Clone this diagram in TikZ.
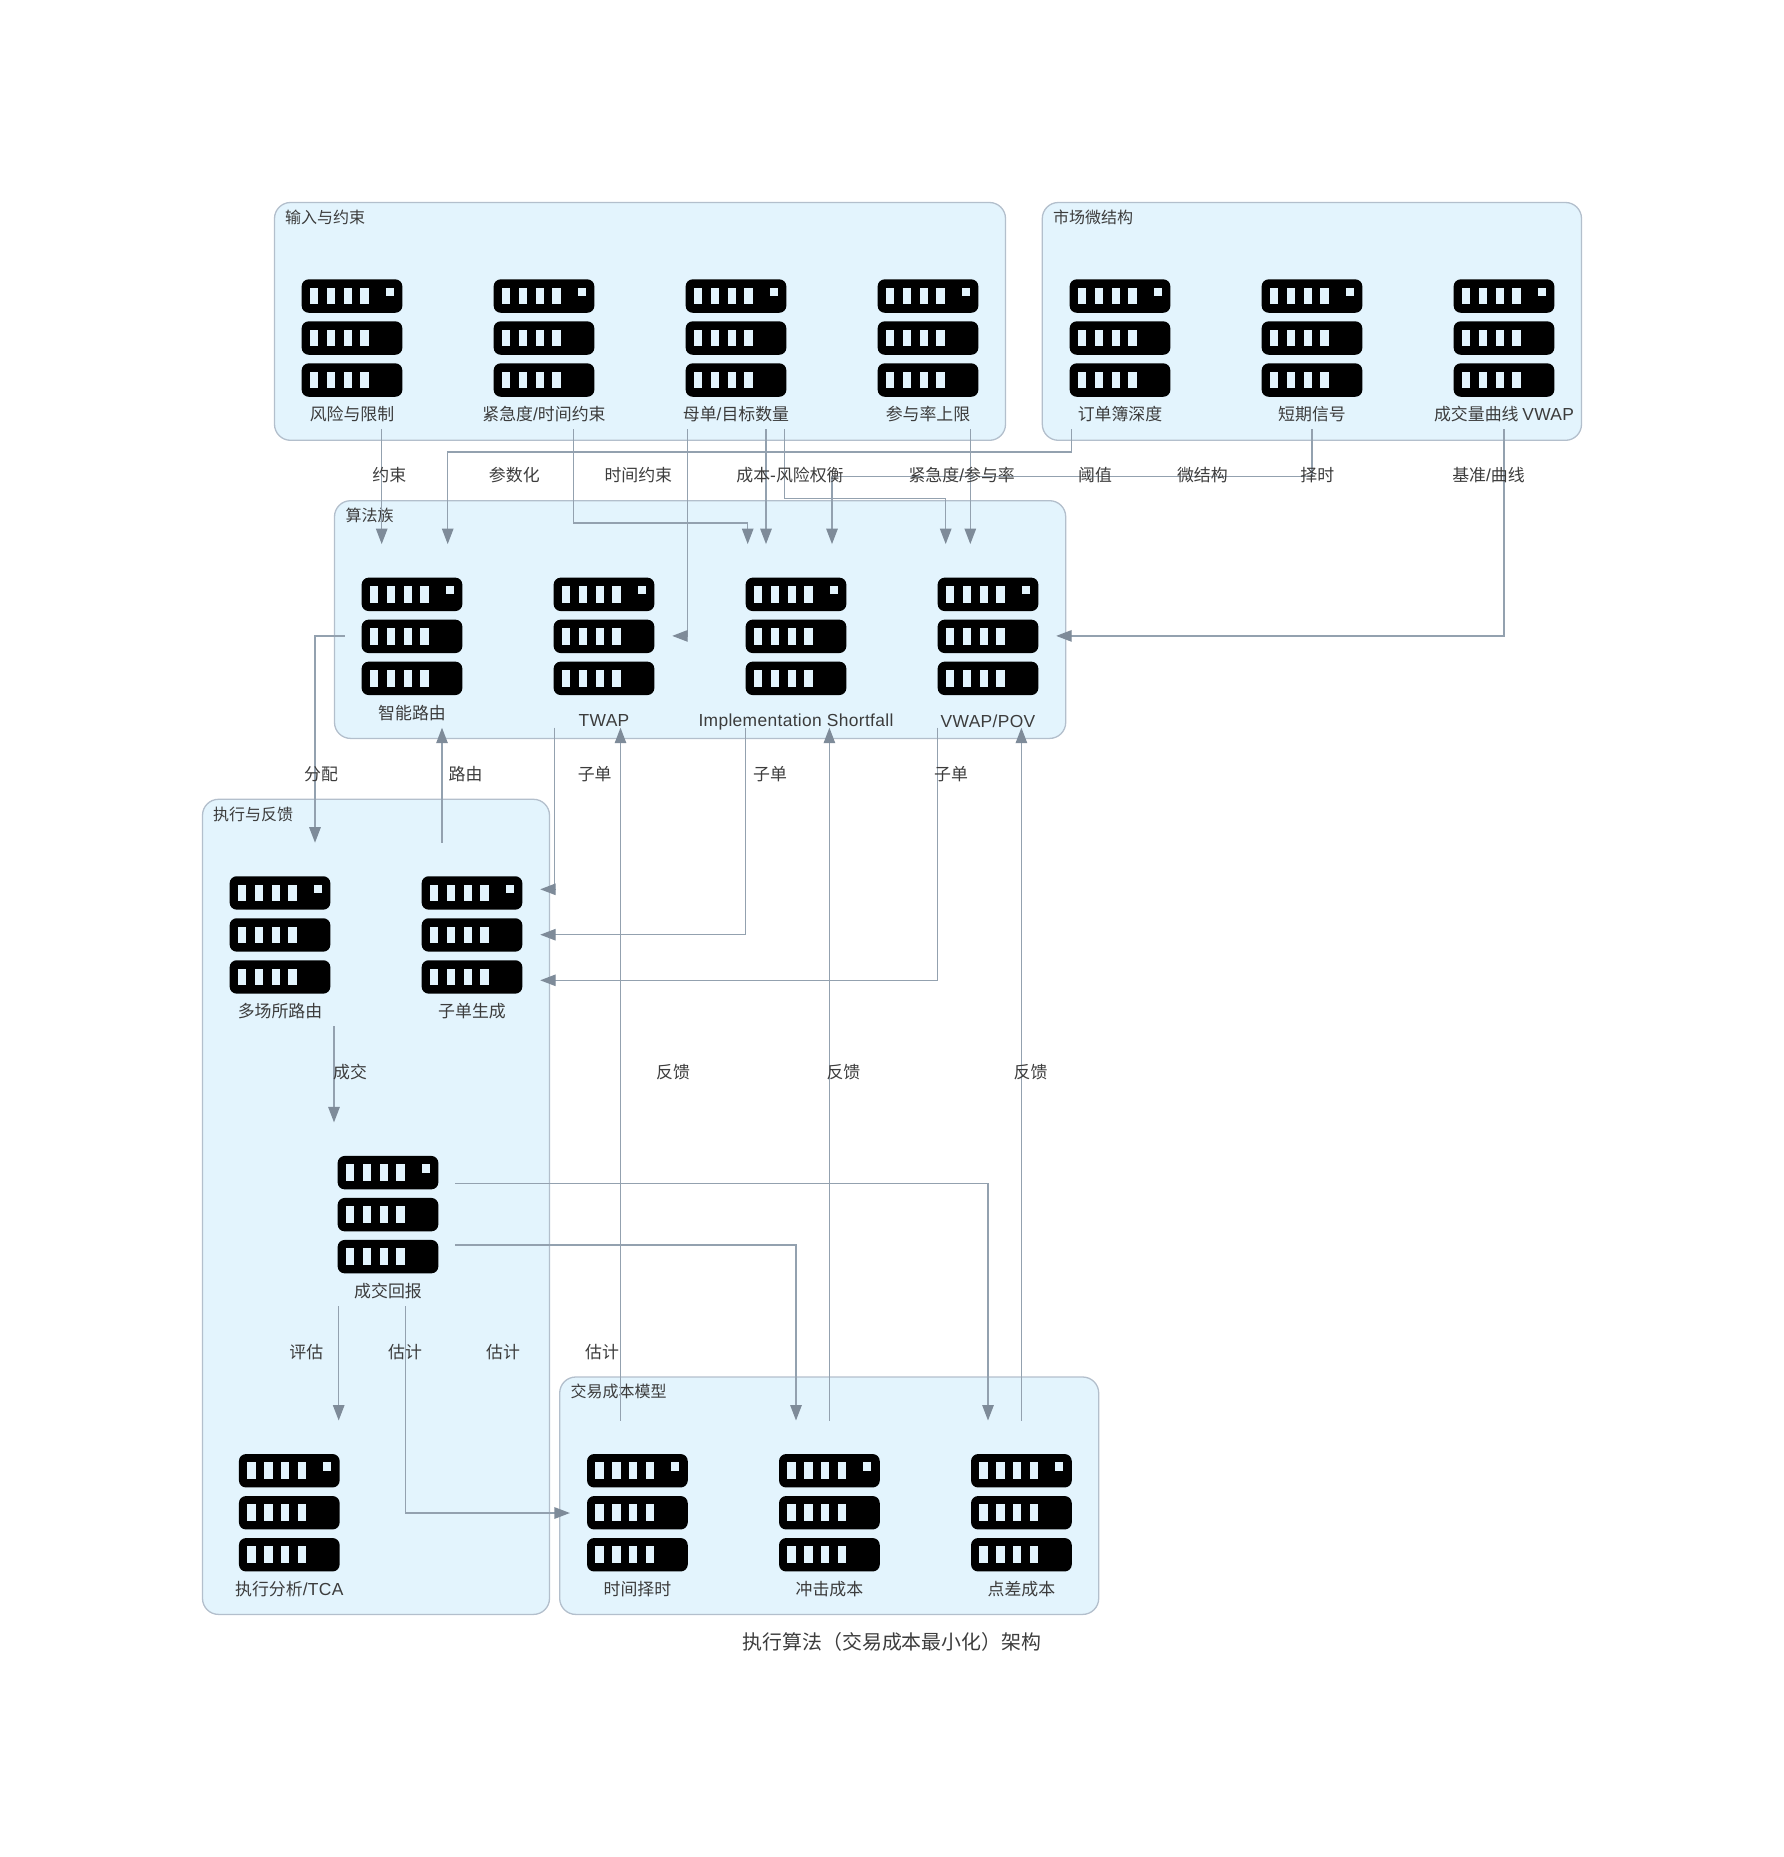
\documentclass[tikz,border=0pt]{standalone}
\usepackage{fontspec}
\setmainfont{Noto Sans CJK SC}
\newfontfamily\latfont[Scale=1.03,LetterSpace=1.9]{Liberation Sans}
\newcommand{\lat}[1]{{\latfont #1}}
\usetikzlibrary{arrows.meta}
\definecolor{groupfill}{HTML}{E3F4FD}
\definecolor{groupline}{HTML}{B3BFCC}
\definecolor{edgeline}{HTML}{93A1AF}
\definecolor{tipfill}{HTML}{7E8B99}
\definecolor{textcol}{HTML}{3C3C3C}
\tikzset{
  group/.style={fill=groupfill, draw=groupline, line width=1.3pt, rounded corners=16pt},
  grouptitle/.style={anchor=west, inner sep=0pt, text=textcol, font=\fontsize{16}{18}\selectfont},
  iconbox/.style={minimum width=136pt, minimum height=183.2pt, inner sep=0pt},
  iconlabel/.style={inner sep=0pt, text=textcol, font=\fontsize{16.9}{19}\selectfont},
  elabel/.style={inner sep=0pt, text=textcol, font=\fontsize{16.9}{19}\selectfont},
  edge/.style={draw=edgeline, line width=1.3pt, -{Triangle[length=15.5pt,width=11.5pt,color=tipfill,fill=tipfill]}},
  pics/servericon/.style={code={
    \foreach \r in {0,42,84} {
      \fill[black, rounded corners=7pt] (0,\r) rectangle (100.7,\r+33.4);
      \foreach \s in {8.3,25.2,42,58.8} {
        \fill[groupfill] (\s,\r+8.3) rectangle (\s+8.4,\r+25);
      }
    }
    \fill[groupfill] (84,8.3) rectangle (92.4,16.7);
  }}
}
\begin{document}
\begin{tikzpicture}[x=1pt, y=-1pt]
  \useasboundingbox (0,0) rectangle (1784,1857);
  % groups
  \draw[group] (274.5,202.5) rectangle (1005.5,440.3);
  \draw[group] (1042.3,202.5) rectangle (1581.5,440.3);
  \draw[group] (334.5,500.7) rectangle (1065.7,738.4);
  \draw[group] (202.5,799.3) rectangle (549.5,1614.4);
  \draw[group] (559.7,1377) rectangle (1098.7,1614.4);
  \node[grouptitle] (titleinput) at (285,217.3) {输入与约束};
  \node[grouptitle] (titlemarket) at (1053,217.3) {市场微结构};
  \node[grouptitle] (titlealgo) at (345.5,515.3) {算法族};
  \node[grouptitle] (titleexec) at (213,814.3) {执行与反馈};
  \node[grouptitle] (titlecost) at (570.3,1391.3) {交易成本模型};
  % icons
  \foreach \nm/\cx/\cy/\ly/\txt in {
    risk/352/337.6/76.4/{风险与限制},
    urgent/544/337.6/76.4/{紧急度{\lat{/}}时间约束},
    parent/736/337.6/76.4/{母单{\lat{/}}目标数量},
    partcap/928/337.6/76.4/{参与率上限},
    depth/1120/337.6/76.4/{订单簿深度},
    signal/1312/337.6/76.4/{短期信号},
    curve/1504/337.6/76.4/{成交量曲线 \lat{VWAP}},
    smart/412/635.9/77.1/{智能路由},
    twap/604/635.9/85.1/{\lat{TWAP}},
    shortfall/796/635.9/85.6/{\lat{Implementation Shortfall}},
    vwap/988/635.9/85.1/{\lat{VWAP{/}POV}},
    sor/280/934.5/76.5/{多场所路由},
    child/472/934.5/76.5/{子单生成},
    fills/388/1214.2/76.8/{成交回报},
    tca/289.3/1512.3/76.7/{执行分析\lat{/TCA}},
    timing/637.4/1512.3/76.7/{时间择时},
    impact/829.4/1512.3/76.7/{冲击成本},
    spread/1021.4/1512.3/76.7/{点差成本}} {
    \node[iconbox] (\nm) at (\cx,\cy) {};
    \pic at ([shift={(-50.35,-58.25)}]\nm.center) {servericon};
    \node[iconlabel] (\nm lbl) at (\cx,\cy+\ly) {\txt};
  }
  % inputs to algorithms
  \draw[edge] ([xshift=29.7pt]risk.south) -- ([xshift=-30.3pt]smart.north);
  \draw[edge] ([xshift=-48.3pt]depth.south) -- ++(0,22.5) -| ([xshift=35.7pt]smart.north);
  \draw[edge] ([xshift=29.7pt]urgent.south) -- ++(0,93.5) -| ([xshift=-48.3pt]shortfall.north);
  \draw[edge] ([xshift=-48.3pt]parent.south) |- (twap.east);
  \draw[edge] ([xshift=30pt]parent.south) -- ([xshift=-30pt]shortfall.north);
  \draw[edge] ([xshift=48.3pt]parent.south) -- ++(0,69.1) -| ([xshift=-42.3pt]vwap.north);
  \draw[edge] ([xshift=42.3pt]partcap.south) -- ([xshift=-17.7pt]vwap.north);
  \draw[edge] (signal.south) -- ++(0,46.8) -| ([xshift=36pt]shortfall.north);
  \draw[edge] (curve.south) |- (vwap.east);
  % algorithms to execution
  \draw[edge] ([xshift=1pt]smart.west) -| ([xshift=35pt]sor.north);
  \draw[edge] ([xshift=-30pt]child.north) -- ([xshift=30pt]smart.south);
  \draw[edge] ([xshift=-49.3pt]twap.south) |- ([yshift=45.2pt]child.east);
  \draw[edge] ([xshift=-50.3pt]shortfall.south) |- ([yshift=-0.2pt]child.east);
  \draw[edge] ([xshift=-50.3pt]vwap.south) |- ([yshift=-45.8pt]child.east);
  \draw[edge] ([xshift=54pt]sor.south) -- ([xshift=-54pt]fills.north);
  % fills to costs
  \draw[edge] ([xshift=-1pt,yshift=30.5pt]fills.east) -| ([xshift=-33.4pt]spread.north);
  \draw[edge] ([xshift=-1pt,yshift=-30.8pt]fills.east) -| ([xshift=-33.4pt]impact.north);
  \draw[edge] ([xshift=-49.3pt]fills.south) -- ([xshift=49.4pt]tca.north);
  \draw[edge] ([xshift=17.7pt]fills.south) |- ([xshift=0.7pt,yshift=-0.7pt]timing.west);
  \draw[edge] ([xshift=-16.9pt]timing.north) -- ([xshift=16.5pt]twap.south);
  \draw[edge] (impact.north) -- ([xshift=33.4pt]shortfall.south);
  \draw[edge] (spread.north) -- ([xshift=33.4pt]vwap.south);
  % edge labels
  \node[elabel] (lblyueshu) at (389.3,475) {约束};
  \node[elabel] (lblcanshu) at (514.3,475) {参数化};
  \node[elabel] (lblshijian) at (638.3,475) {时间约束};
  \node[elabel] (lblchengben) at (790,475) {成本{\lat{-}}风险权衡};
  \node[elabel] (lbljinji) at (961.7,475) {紧急度{\lat{/}}参与率};
  \node[elabel] (lblyuzhi) at (1095,475) {阈值};
  \node[elabel] (lblweijie) at (1202.4,475) {微结构};
  \node[elabel] (lblzeshi) at (1317.3,475) {择时};
  \node[elabel] (lbljizhun) at (1488.5,475) {基准{\lat{/}}曲线};
  \node[elabel] (lblfenpei) at (321,774.3) {分配};
  \node[elabel] (lblluyou) at (465.6,774.3) {路由};
  \node[elabel] (lblzia) at (594.7,774.3) {子单};
  \node[elabel] (lblzib) at (770,774.3) {子单};
  \node[elabel] (lblzic) at (951,774.3) {子单};
  \node[elabel] (lblchengjiao) at (350,1072) {成交};
  \node[elabel] (lblfana) at (673,1072) {反馈};
  \node[elabel] (lblfanb) at (843.4,1072) {反馈};
  \node[elabel] (lblfanc) at (1030.6,1072) {反馈};
  \node[elabel] (lblpinggu) at (306.3,1352) {评估};
  \node[elabel] (lblgua) at (405,1352) {估计};
  \node[elabel] (lblgub) at (503,1352) {估计};
  \node[elabel] (lblguc) at (602,1352) {估计};
  \node[inner sep=0pt, text=textcol, font=\fontsize{19.9}{23}\selectfont] (title) at (892,1642) {执行算法（交易成本最小化）架构};
\end{tikzpicture}
\end{document}
